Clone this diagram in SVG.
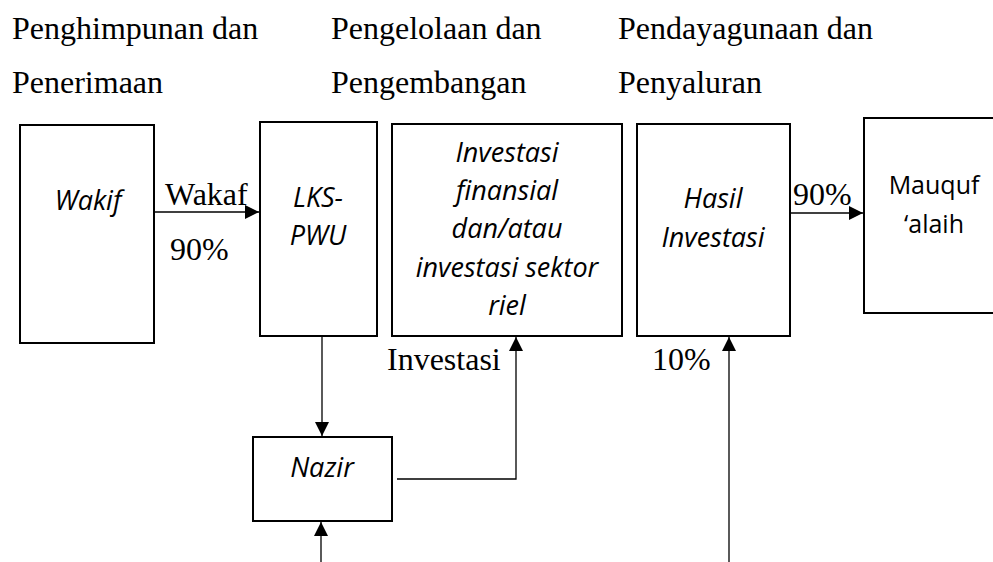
<svg xmlns="http://www.w3.org/2000/svg" width="993" height="562" viewBox="0 0 993 562">
  <style>
    .box { fill: #ffffff; stroke: #000000; stroke-width: 2; }
    .lbl { font-family: "Open Sans", "Noto Sans", sans-serif; font-size: 25px; fill: #000; text-anchor: middle; }
    .it { font-style: italic; font-size: 27px; }
    .tm { font-family: "Liberation Serif", "Times New Roman", serif; font-size: 32px; fill: #000; }
    .conn { fill: none; stroke: #000000; stroke-width: 1.3; }
  </style>
  <defs>
    <marker id="arrow" markerUnits="userSpaceOnUse" markerWidth="14" markerHeight="14" refX="14" refY="7" orient="auto">
      <path d="M0,0 L14,7 L0,14 Z" fill="#000"/>
    </marker>
  </defs>

  <rect width="993" height="562" fill="#ffffff"/>

  <!-- stage headings -->
  <g id="headings" class="tm">
    <text x="12" y="39">Penghimpunan dan</text>
    <text x="12" y="93">Penerimaan</text>
    <text x="331" y="39">Pengelolaan dan</text>
    <text x="331" y="93">Pengembangan</text>
    <text x="618" y="39">Pendayagunaan dan</text>
    <text x="618" y="93">Penyaluran</text>
  </g>

  <g id="wakif">
    <rect class="box" x="20" y="125" width="134" height="218"/>
    <text class="lbl it" x="88" y="210">Wakif</text>
  </g>

  <g id="lks-pwu">
    <rect class="box" x="260" y="122" width="117" height="214"/>
    <text class="lbl it" x="318" y="207">LKS-</text>
    <text class="lbl it" x="318" y="245">PWU</text>
  </g>

  <g id="investasi">
    <rect class="box" x="392" y="124" width="230" height="212"/>
    <text class="lbl it" x="507" y="162">Investasi</text>
    <text class="lbl it" x="507" y="200">finansial</text>
    <text class="lbl it" x="507" y="238">dan/atau</text>
    <text class="lbl it" x="507" y="277">investasi sektor</text>
    <text class="lbl it" x="507" y="315">riel</text>
  </g>

  <g id="hasil-investasi">
    <rect class="box" x="637" y="124" width="153" height="212"/>
    <text class="lbl it" x="713" y="208">Hasil</text>
    <text class="lbl it" x="713" y="247">Investasi</text>
  </g>

  <g id="mauquf-alaih">
    <rect class="box" x="864" y="118" width="160" height="195"/>
    <text class="lbl" x="934" y="194">Mauquf</text>
    <text class="lbl" x="934" y="233">‘alaih</text>
  </g>

  <g id="nazir">
    <rect class="box" x="253" y="437" width="139" height="84"/>
    <text class="lbl it" x="322" y="477">Nazir</text>
  </g>

  <g id="connectors">
    <path class="conn" d="M155,212 H259" marker-end="url(#arrow)"/>
    <path class="conn" d="M791,213 H863" marker-end="url(#arrow)"/>
    <path class="conn" d="M322,337 V436" marker-end="url(#arrow)"/>
    <path class="conn" d="M397,479 H516 V337" marker-end="url(#arrow)"/>
    <path class="conn" d="M321,562 V522" marker-end="url(#arrow)"/>
    <path class="conn" d="M729,562 V337" marker-end="url(#arrow)"/>
  </g>

  <g id="connector-labels" class="tm">
    <text x="165" y="205">Wakaf</text>
    <text x="170" y="260">90%</text>
    <text x="793" y="205">90%</text>
    <text x="387" y="370">Investasi</text>
    <text x="652" y="370">10%</text>
  </g>
</svg>
